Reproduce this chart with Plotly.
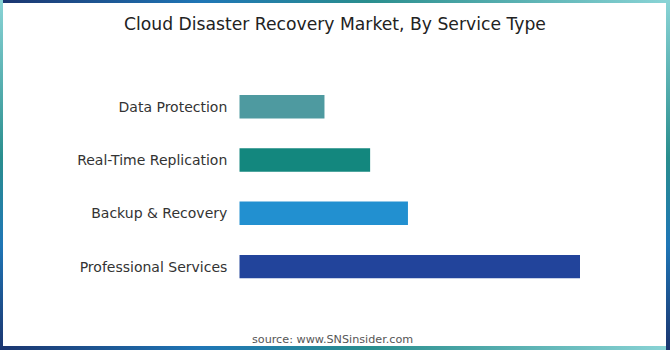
import plotly.graph_objects as go

# ---- data ----
categories = ["Data Protection", "Real-Time Replication", "Backup & Recovery", "Professional Services"]
values = [25.0, 38.4, 49.5, 100.0]
bar_colors = ["#4E9AA0", "#13877E", "#2290D0", "#22449B"]
title_text = "Cloud Disaster Recovery Market, By Service Type"
source_text = "source: www.SNSinsider.com"

W, H = 670, 350
FONT = "DejaVu Sans"

fig = go.Figure()

fig.add_trace(go.Bar(
    x=values, y=categories, orientation="h",
    marker=dict(color=bar_colors, line=dict(width=0)),
    width=0.44, hoverinfo="skip", showlegend=False,
))

# ---- gradient frame (drawn on a full-page helper axis) ----
navy, blue, teal, light = "#1B356F", "#1F76B6", "#2A8E8E", "#8AD4D6"
def rect(x0, x1, y0, y1, gtype, scale, start, stop):
    fig.add_trace(go.Scatter(
        x=[x0, x1, x1, x0, x0], y=[y0, y0, y1, y1, y0],
        mode="lines", line=dict(width=0), fill="toself",
        fillgradient=dict(type=gtype, colorscale=scale, start=start, stop=stop),
        xaxis="x2", yaxis="y2", hoverinfo="skip", showlegend=False,
    ))

h_scale = [[0, navy], [0.3, blue], [0.55, teal], [1, light]]
v_scale = [[0, navy], [0.3, blue], [0.55, teal], [1, light]]
rect(0, W, H - 3, H, "horizontal", h_scale, 0, W)       # top
rect(0, W, 0, 4, "horizontal", h_scale, 0, W)           # bottom
rect(0, 3, 0, H, "vertical", v_scale, 0, H)             # left
rect(W - 4, W, 0, H, "vertical", v_scale, 0, H)         # right

fig.update_layout(
    width=W, height=H,
    margin=dict(l=0, r=0, t=0, b=0),
    paper_bgcolor="white", plot_bgcolor="rgba(0,0,0,0)",
    showlegend=False,
    font=dict(family=FONT, color="#333333"),
    xaxis=dict(domain=[239.3 / W, 580 / W], range=[0, 100], visible=False, fixedrange=True),
    yaxis=dict(domain=[(H - 293.3) / H, (H - 80) / H], range=[3.5, -0.5],
               showgrid=False, zeroline=False, showline=False, ticks="",
               tickfont=dict(size=14, color="#333333", family=FONT),
               ticklabelstandoff=11, automargin=False, fixedrange=True),
    xaxis2=dict(domain=[0, 1], range=[0, W], visible=False, anchor="y2", fixedrange=True),
    yaxis2=dict(domain=[0, 1], range=[0, H], visible=False, anchor="x2", fixedrange=True),
    annotations=[
        dict(text=title_text, x=335 / W, y=(H - 24) / H, xref="paper", yref="paper",
             showarrow=False, xanchor="center", yanchor="middle",
             font=dict(size=17.2, color="#222222", family=FONT)),
        dict(text=source_text, x=332 / W, y=(H - 339) / H, xref="paper", yref="paper",
             showarrow=False, xanchor="center", yanchor="middle",
             font=dict(size=11.2, color="#555555", family=FONT)),
    ],
)

fig.write_html("out.html")
